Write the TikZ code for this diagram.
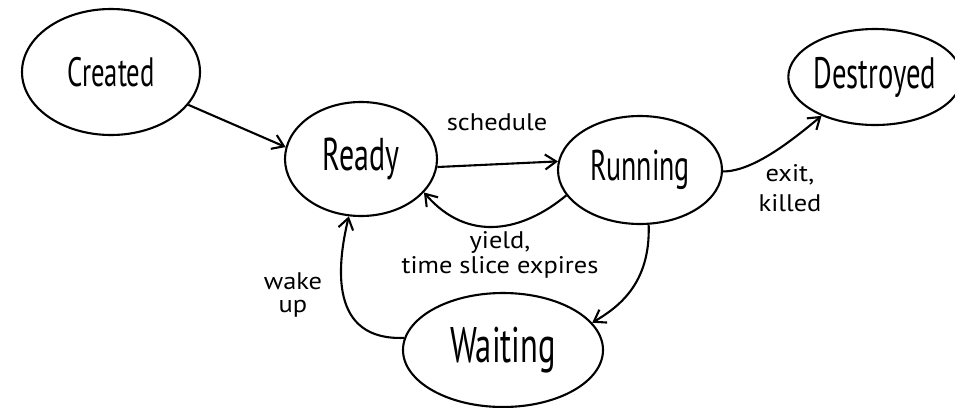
\documentclass[tikz,border=0pt]{standalone}
\usepackage{fontspec}
\setmainfont{PT Sans}
\newfontfamily\statefont[FakeStretch=0.65]{PT Sans}
\newfontfamily\labelfont[FakeStretch=1.1]{PT Sans}
\usetikzlibrary{shapes.geometric,arrows.meta}
\newcommand{\statesize}[1]{\statefont\fontsize{#1}{#1}\selectfont}
\begin{document}
\begin{tikzpicture}[x=1pt,y=-1pt,
  state/.style={draw, ellipse, line width=2.1pt, inner sep=0pt},
  trans/.style={line width=2.1pt, -{Straight Barb[length=11pt,width=15pt]}},
  lbl/.style={font=\labelfont\fontsize{24}{20}\selectfont, align=center, inner sep=0pt}]
\fill[white] (0,0) rectangle (955,407);
\useasboundingbox (0,0) rectangle (955,407);

% process states
\node[state, minimum width=178pt, minimum height=126pt, font=\statesize{41}] (created)   at (111,72)  {Created};
\node[state, minimum width=152pt, minimum height=114pt, font=\statesize{46}] (ready)     at (361,159) {Ready};
\node[state, minimum width=164pt, minimum height=108pt, font=\statesize{43}] (running)   at (640,170) {Running};
\node[state, minimum width=146pt, minimum height=96pt,  font=\statesize{44}] (destroyed) at (875,77)  {Destroyed};
\node[state, minimum width=200pt, minimum height=114pt, font=\statesize{50}] (waiting)   at (503,350) {Waiting};

% transitions
\draw[trans] (created.-23) -- (ready.171);
\draw[trans] (ready.-6) -- (running.174);
\draw[trans] (running.-161) .. controls +(-42,35) and +(45,52) .. (ready.-28);
\draw[trans] (running.-81) .. controls +(2,60) and +(25,-15) .. (waiting.17);
\draw[trans] (waiting.173) .. controls +(-75,3) and +(-12,50) .. (ready.-102);
\draw[trans] (running.-1) .. controls +(30,0) and +(-30,25) .. (destroyed.-144);

% transition labels
\node[lbl] (lschedule) at (497,122) {schedule};
\node[lbl] (lyield)    at (500,255) {yield,\\[2pt]time slice expires};
\node[lbl] (lwake)     at (293,295) {wake\\[3pt]up};
\node[lbl] (lexit)     at (790,188) {exit,\\[8pt]killed};
\end{tikzpicture}
\end{document}
